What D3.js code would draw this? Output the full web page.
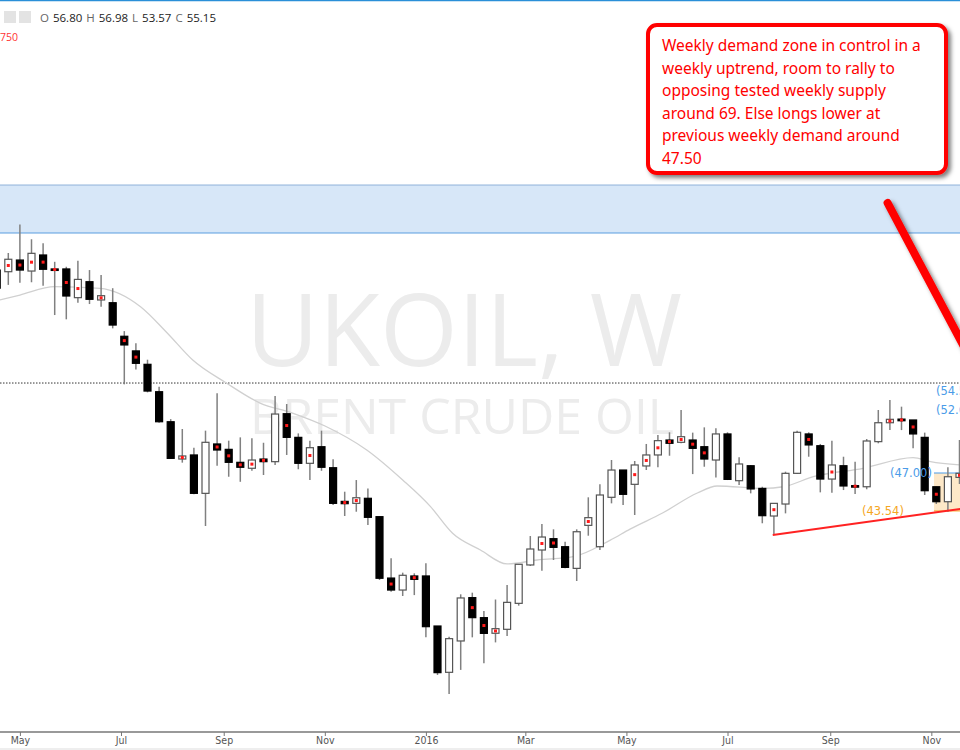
<!DOCTYPE html>
<html><head><meta charset="utf-8">
<script src="https://cdn.jsdelivr.net/npm/d3@7/dist/d3.min.js"></script>
<style>body{margin:0;background:#fff}svg{display:block}</style>
</head><body><svg id="c" width="960" height="750"></svg>
<script>
const startDate = "2015-04-17";
const opens  = [65.45,65.3,66.36,65.36,66.82,65.55,65.55,62.94,64.39,62.73,62.48,59.43,58.1,56.88,54.39,51.66,48.27,48.64,45.15,49.64,49.15,47.97,47.43,48.27,48.03,52.39,50.24,47.88,49.39,47.48,44.42,44.24,44.7,43.03,37.45,36.36,37.64,37.64,33.09,28.88,31.73,35.67,33.85,32.43,32.79,35.15,38.64,40.0,41.03,40.3,38.33,42.24,40.3,44.79,47.27,45.97,47.64,48.64,50.0,49.79,50.0,49.39,48.18,50.55,46.3,47.66,45.6,43.09,44.18,46.97,50.55,49.48,46.45,47.66,45.85,45.75,49.85,51.57,51.9,51.82,50.24,45.75,44.39,46.6];
const highs  = [65.7,67.0,69.6,68.25,67.88,66.2,65.75,66.3,65.45,65.0,63.8,59.9,58.8,57.3,54.85,51.9,51.0,49.3,50.85,54.25,49.94,50.24,50.15,49.75,54.0,53.27,50.6,49.94,50.85,48.25,45.3,46.36,45.6,43.03,39.24,37.94,37.88,38.8,33.09,32.12,35.97,36.12,34.45,35.5,36.82,38.7,41.27,42.36,41.88,40.76,41.88,44.79,45.97,48.18,47.27,48.09,49.64,50.45,50.7,52.73,50.67,51.15,51.06,50.7,48.43,47.73,45.75,44.24,47.12,50.85,50.7,49.64,49.94,48.48,48.03,50.09,52.73,53.64,53.03,51.82,50.67,45.75,47.52,50.0];
const lows   = [63.6,64.1,64.3,64.34,64.03,61.36,60.97,62.48,62.36,62.12,60.15,55.06,56.4,54.33,51.57,48.27,47.94,45.06,42.18,47.66,46.66,46.2,47.2,46.82,47.73,48.64,47.34,46.36,47.2,44.09,43.09,43.48,42.27,37.27,36.2,35.82,35.9,32.06,28.64,26.9,29.1,32.06,29.7,31.6,32.18,34.94,38.55,38.12,39.09,38.33,37.18,41.3,40.0,44.24,44.09,43.18,47.27,47.52,48.57,49.7,46.9,47.57,46.6,46.36,45.9,45.15,42.43,41.36,43.33,46.9,48.48,45.24,45.2,45.45,45.1,45.52,49.7,50.9,50.9,49.24,45.0,44.18,43.48,46.0];
const closes = [63.8,66.43,65.45,66.97,65.52,65.45,63.09,64.6,62.79,63.12,60.45,58.64,56.97,54.45,51.66,48.33,48.55,45.15,49.79,49.09,47.97,47.52,48.18,48.03,52.36,50.24,47.88,49.3,47.52,44.24,44.21,44.75,42.97,37.43,36.36,37.7,37.33,33.03,28.85,31.94,35.64,33.85,32.42,32.85,35.24,38.7,40.09,41.18,40.24,38.42,41.66,42.94,45.0,47.27,45.06,47.73,48.64,49.94,49.7,50.3,49.24,48.27,50.55,46.42,47.82,45.55,43.12,44.24,46.97,50.7,49.55,46.45,47.73,45.82,45.75,49.91,51.57,51.88,51.75,50.55,45.39,44.39,46.66,46.97];
const dotFlags = [0,1,1,1,1,1,1,1,0,1,0,1,1,0,0,0,1,0,0,1,1,1,1,1,0,1,0,1,0,0,1,1,0,0,1,0,1,0,0,0,0,1,1,1,0,0,0,1,1,0,0,1,0,0,0,1,1,1,1,1,1,1,0,0,0,0,0,1,0,0,1,0,1,0,1,0,0,1,1,1,0,1,0,1];
const maIdx   = [0.28,2,5,8.9,12.4,14.7,16.9,19.8,22.7,25.5,28.3,31.9,35,37.4,39.3,41.7,44,46.6,49.7,52.9,54.6,57.4,60.4,62.1,66.1,67.8,70.4,74.7,79,80.5,83];
const maVals  = [62.73,63.18,63.94,63.79,62.12,59.73,57.27,55.18,53.36,52.45,51.27,49.09,46.36,43.94,41.52,40.0,38.73,39.09,39.39,40.9,41.9,43.36,45.18,45.82,45.6,45.75,46.66,47.43,48.39,48.03,47.73];
const supplyZone = [68.82, 73.18];
const demandZone = [43.55, 47.0];
const currentPrice = 55.18;
const trendIdx = [66.9, 83.2], trendVals = [41.36, 43.75];
const arrowIdx = [76.8, 85.5], arrowVals = [71.55, 54.3];
const levelLabels = [["(54.5",54.45,936,"#4a9be8"],["(52.6",52.7,936,"#4a9be8"],["(47.00)",47.0,890,"#4a9be8"],["(43.54)",43.54,862,"#f5a623"]];
const legend = ["O","56.80","H","56.98","L","53.57","C","55.15"];
const note = ["Weekly demand zone in control in a","weekly uptrend, room to rally to","opposing tested weekly supply","around 69. Else longs lower at","previous weekly demand around","47.50"];

const svg = d3.select("#c");
const DAY = 864e5;
const t0 = new Date(startDate + "T00:00:00");
const dateOf = i => new Date(t0.getTime() + i*7*DAY);
const x = d3.scaleTime().domain([dateOf(0), dateOf(83)]).range([-3.3, 959.5]);
const xi = i => x(dateOf(i));
const y = d3.scaleLinear().domain([27, 73]).range([693, 187]);

const defs = svg.append("defs");
const f = defs.append("filter").attr("id","sh").attr("x","-20%").attr("y","-20%").attr("width","140%").attr("height","150%");
f.append("feDropShadow").attr("dx",3).attr("dy",3).attr("stdDeviation",2).attr("flood-color","#000").attr("flood-opacity",0.5);

// watermark
svg.append("text").attr("x",464).attr("y",366).attr("text-anchor","middle").attr("font-family","Open Sans").attr("font-size",100).attr("fill","#ececec").text("UKOIL, W");
svg.append("text").attr("x",462).attr("y",434).attr("text-anchor","middle").attr("font-family","Open Sans").attr("font-size",50).attr("fill","#ececec").text("BRENT CRUDE OIL");

// supply zone
svg.append("rect").attr("x",0).attr("width",960).attr("y",y(supplyZone[1])).attr("height",y(supplyZone[0])-y(supplyZone[1])).attr("fill","#d7e7f8");
svg.append("line").attr("x1",0).attr("x2",960).attr("y1",y(supplyZone[1])).attr("y2",y(supplyZone[1])).attr("stroke","#8fb3d9").attr("stroke-width",1);
svg.append("line").attr("x1",0).attr("x2",960).attr("y1",y(supplyZone[0])).attr("y2",y(supplyZone[0])).attr("stroke","#5a9ee0").attr("stroke-width",1.2);

// demand zone
svg.append("rect").attr("x",xi(80.8)).attr("width",960-xi(80.8)).attr("y",y(demandZone[1])).attr("height",y(demandZone[0])-y(demandZone[1])).attr("fill","#fde8c8");
svg.append("line").attr("x1",xi(80.8)).attr("x2",960).attr("y1",y(demandZone[1])).attr("y2",y(demandZone[1])).attr("stroke","#4a9be8");
svg.append("line").attr("x1",xi(80.8)).attr("x2",960).attr("y1",y(demandZone[0])).attr("y2",y(demandZone[0])).attr("stroke","#f5a623");

// current price dotted line
svg.append("line").attr("x1",0).attr("x2",960).attr("y1",y(currentPrice)).attr("y2",y(currentPrice)).attr("stroke","#333").attr("stroke-dasharray","1.5,1.5");

// MA
svg.append("path").datum(maIdx.map((d,i)=>[d,maVals[i]])).attr("fill","none").attr("stroke","#d0d0d0").attr("stroke-width",1.3)
  .attr("d", d3.line().x(d=>xi(d[0])).y(d=>y(d[1])).curve(d3.curveMonotoneX));

// candles
const data = opens.map((o,i)=>({i,o,h:highs[i],l:lows[i],c:closes[i],dot:dotFlags[i]}));
const g = svg.append("g");
const bw = 7;
g.selectAll(".w").data(data).join("line").attr("x1",d=>xi(d.i)).attr("x2",d=>xi(d.i)).attr("y1",d=>y(d.h)).attr("y2",d=>y(d.l)).attr("stroke","#808080").attr("stroke-width",1.5);
g.selectAll(".b").data(data).join("rect")
  .attr("x",d=>xi(d.i)-bw/2).attr("width",bw)
  .attr("y",d=>y(Math.max(d.o,d.c))).attr("height",d=>Math.max(1.5,Math.abs(y(d.o)-y(d.c))))
  .attr("fill",d=>d.c>=d.o?"#fff":"#000").attr("stroke",d=>d.c>=d.o?"#555":"#000").attr("stroke-width",1.2);
g.selectAll(".d").data(data.filter(d=>d.dot)).join("rect")
  .attr("x",d=>xi(d.i)-1.5).attr("y",d=>y((d.o+d.c)/2)-1.5).attr("width",3).attr("height",3).attr("fill","#ff1a1a");

// trendline
svg.append("line").attr("x1",xi(trendIdx[0])).attr("x2",xi(trendIdx[1])).attr("y1",y(trendVals[0])).attr("y2",y(trendVals[1])).attr("stroke","#f22").attr("stroke-width",2);

// level labels
levelLabels.forEach(([t,v,lx,col])=>{
  svg.append("text").attr("x",lx).attr("y",y(v)+4).attr("font-family","DejaVu Sans").attr("font-size",11.5).attr("fill",col).text(t);
});

// arrow line
svg.append("line").attr("x1",xi(arrowIdx[0])).attr("x2",xi(arrowIdx[1])).attr("y1",y(arrowVals[0])).attr("y2",y(arrowVals[1]))
  .attr("stroke","#ff0000").attr("stroke-width",8).attr("stroke-linecap","round").attr("filter","url(#sh)");

// annotation
svg.append("rect").attr("x",648).attr("y",25).attr("width",298).attr("height",148).attr("rx",9)
  .attr("fill","#fff").attr("stroke","#ff0000").attr("stroke-width",4).attr("filter","url(#sh)");
svg.append("g").selectAll("text").data(note).join("text").attr("x",662).attr("y",(d,i)=>51+i*22.6)
  .attr("font-family","Noto Sans").attr("font-size",15.5).attr("fill","#ff0000").text(d=>d);

// top bar & legend
svg.append("line").attr("x1",0).attr("x2",960).attr("y1",0.5).attr("y2",0.5).attr("stroke","#2a8fd8").attr("stroke-width",1.5);
svg.append("rect").attr("x",4).attr("y",11).attr("width",12).attr("height",12).attr("fill","#e3e3e3");
svg.append("rect").attr("x",19).attr("y",11).attr("width",12).attr("height",12).attr("fill","#e3e3e3");
const lg = svg.append("text").attr("x",40).attr("y",22).attr("font-family","Open Sans").attr("font-size",11.5);
legend.forEach((t,i)=>lg.append("tspan").attr("dx",i?4:0).attr("fill",i%2?"#222":"#666").text(t));
svg.append("text").attr("x",0).attr("y",41).attr("font-family","Open Sans").attr("font-size",10.5).attr("fill","#ff3333").text("750");

// axis
const ax = svg.append("g").attr("transform","translate(0,732)")
  .call(d3.axisBottom(x).ticks(d3.timeMonth.every(2)).tickSize(4).tickFormat(d=>d.getMonth()===0?d3.timeFormat("%Y")(d):d3.timeFormat("%b")(d)));
ax.select(".domain").attr("stroke","#777").attr("stroke-width",1.5).attr("d","M0,0H960");
ax.selectAll(".tick line").attr("stroke","#777");
ax.selectAll("text").attr("font-family","Liberation Sans Narrow, DejaVu Sans Condensed, sans-serif").attr("font-size",10.5).attr("fill","#555").attr("dy","0.5em");
svg.append("rect").attr("x",0).attr("y",748).attr("width",960).attr("height",2).attr("fill","#eee");
</script></body></html>
